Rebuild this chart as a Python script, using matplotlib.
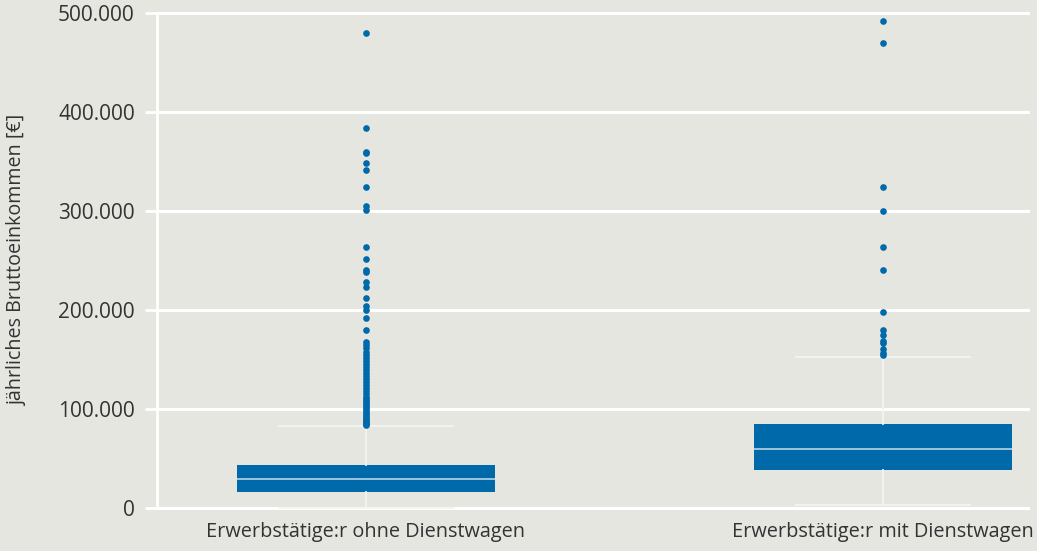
import matplotlib
matplotlib.use("Agg")
import matplotlib.pyplot as plt
from matplotlib.ticker import FuncFormatter

categories = ["Erwerbstätige:r ohne Dienstwagen", "Erwerbstätige:r mit Dienstwagen"]
q1 = [16000, 38400]
median = [29300, 59600]
q3 = [43400, 84800]
whisker_low = [0, 3000]
whisker_high = [82800, 152500]
outliers_ohne = [480000, 384000, 360000, 359000, 348000, 341000, 324000, 305000, 301000,
                 264000, 252000, 240000, 238000, 228000, 223500, 212000, 204000, 200000,
                 192000, 180000, 168000, 165000, 162000, 158000, 155000, 152000, 148000,
                 145000, 142000, 139000, 136000, 133000, 130000, 127000, 124000, 121000,
                 118000, 115000, 112000, 110000, 108000, 106000, 104000, 102000, 100000,
                 98000, 96000, 94000, 92000, 90000, 88500, 87000, 86000, 85000, 84000]
outliers_mit = [492000, 470000, 324000, 300000, 264000, 240000, 198000, 179500, 175000,
                169000, 166500, 160500, 157000, 155000]
yticks = [0, 100000, 200000, 300000, 400000, 500000]

bg = "#e6e6e1"
blue = "#0069aa"
txt = "#333333"
fam = ["Open Sans", "DejaVu Sans"]

fig = plt.figure(figsize=(10.37, 5.51), dpi=100, facecolor=bg)
W, H = 1037, 551
ylo, yhi = -10000, 510000
ppu = 0.00099
top_px = 13 - (yhi - 500000) * ppu
bot_px = 508 + (0 - ylo) * ppu
ax = fig.add_axes([157 / W, (H - bot_px) / H, (1030 - 157) / W, (bot_px - top_px) / H])
ax.set_facecolor(bg)

stats = []
for i, name in enumerate(categories):
    fl = outliers_ohne if i == 0 else outliers_mit
    stats.append(dict(label=name, q1=q1[i], med=median[i], q3=q3[i],
                      whislo=whisker_low[i], whishi=whisker_high[i], fliers=fl))

ax.bxp(stats, positions=[0, 1], widths=0.5, patch_artist=True, showfliers=True,
       boxprops=dict(facecolor=blue, edgecolor=blue, linewidth=0),
       medianprops=dict(color="#b9d3e6", linewidth=1.2),
       whiskerprops=dict(color="#f4f4f0", linewidth=1.3),
       capprops=dict(color="#f4f4f0", linewidth=1.3),
       capwidths=0.335,
       flierprops=dict(marker="o", markersize=4.8, markerfacecolor=blue,
                       markeredgecolor=blue, markeredgewidth=0, linestyle="none"),
       zorder=3)

ax.set_xlim((157 - 366) / 517, (1030 - 366) / 517)
ax.set_ylim(ylo, yhi)
ax.set_yticks(yticks)
ax.yaxis.set_major_formatter(FuncFormatter(lambda v, p: f"{int(v):,}".replace(",", ".")))
ax.grid(axis="y", color="white", linewidth=2.2, zorder=0)
ax.set_axisbelow(True)
for s in ["top", "right", "bottom"]:
    ax.spines[s].set_visible(False)
ax.spines["left"].set_color("white")
ax.spines["left"].set_linewidth(2)
ax.spines["left"].set_bounds(0, 500000)
ax.tick_params(axis="y", colors="white", length=9, width=2, labelcolor=txt,
               labelsize=15, pad=7)
ax.tick_params(axis="x", length=0, labelcolor=txt, labelsize=14.3, pad=3)
ax.set_xticks([0, 1])
ax.set_xticklabels(categories)
ax.set_ylabel("jährliches Bruttoeinkommen [€]", fontsize=14.2, color=txt)
for t in ax.get_yticklabels() + ax.get_xticklabels():
    t.set_fontfamily(fam)
ax.yaxis.label.set_fontfamily(fam)
ax.yaxis.set_label_coords(27 / W, (H - 260) / H, transform=fig.transFigure)

fig.savefig("out.png", dpi=100, facecolor=bg)
